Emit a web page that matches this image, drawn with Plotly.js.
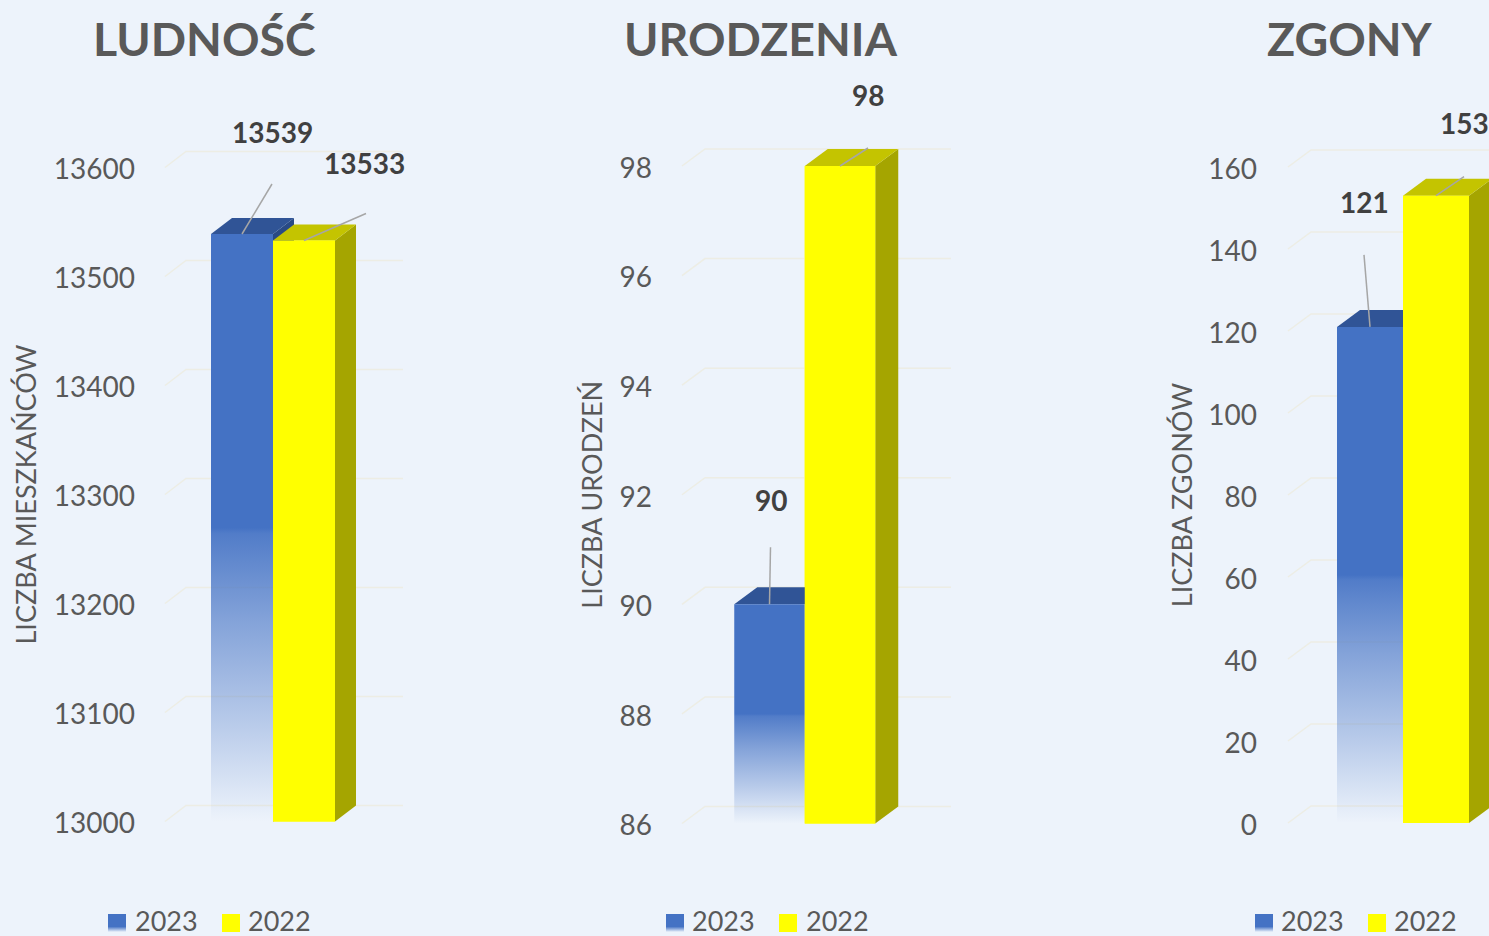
<!DOCTYPE html>
<html><head><meta charset="utf-8">
<script src="https://cdn.plot.ly/plotly-3.0.1.min.js"></script>
<style>html,body{margin:0;padding:0;background:#edf3fb;overflow:hidden}</style>
</head><body><div id="chart" style="width:1489px;height:936px"></div>
<script>
// ---- data ----
const seriesNames = ['2023', '2022'];
const ludnosc = [13539, 13533];
const urodzenia = [90, 98];
const zgony = [121, 153];
const ticksLudnosc = [13000, 13100, 13200, 13300, 13400, 13500, 13600];
const ticksUrodzenia = [86, 88, 90, 92, 94, 96, 98];
const ticksZgony = [0, 20, 40, 60, 80, 100, 120, 140, 160];
const titles = ['LUDNOŚĆ', 'URODZENIA', 'ZGONY'];
const yTitles = ['LICZBA MIESZKAŃCÓW', 'LICZBA URODZEŃ', 'LICZBA ZGONÓW'];

// ---- layout of the three panels (pixels on the 1489x936 page) ----
const W = 1489, H = 936;
const panels = [
 {values: ludnosc, ticks: ticksLudnosc, base: 13000, top: 13600, pxBottom: 821.5, pxTop: 167.5,
  left: 136, right: 420, c0: 242, w: 62, dx: 21, dy: 16, gridL: 165, gridR: 403, standoff: 9, titleX: 204,
  leader: [[30, -50], [62, -27]], label: [[30, -102], [60, -78]],
  swatch: [108, 222], text: [135, 248]},
 {values: urodzenia, ticks: ticksUrodzenia, base: 86, top: 98, pxBottom: 823.5, pxTop: 166,
  left: 653, right: 960, c0: 769.5, w: 70.5, dx: 23, dy: 17, gridL: 682, gridR: 951, standoff: 9, titleX: 761,
  leader: [[1, -57], [28, -18]], label: [[1, -104], [28, -71]],
  swatch: [666, 779], text: [692, 806]},
 {values: zgony, ticks: ticksZgony, base: 0, top: 160, pxBottom: 823, pxTop: 167,
  left: 1258, right: 1489, c0: 1370, w: 66, dx: 23, dy: 17, gridL: 1288, gridR: 1541, standoff: 7, titleX: 1350,
  leader: [[-6, -72], [28, -19]], label: [[-6, -125], [28, -73]],
  swatch: [1255, 1368], text: [1281, 1394]}
];
const FONT = 'Lato, Carlito, Calibri, sans-serif';
const TICK = '#595959', LABEL = '#404040';
const BLUE_TOP = '#305496', BLUE_SIDE = '#294a85';
const YEL = '#ffff00', YEL_TOP = '#c4c400', YEL_SIDE = '#a5a500';
const GRID = 'rgba(236,234,214,0.6)';
const fade = [[0, 'rgba(68,114,196,0)'], [0.16, 'rgba(68,114,196,0.30)'], [0.34, 'rgba(68,114,196,0.62)'], [0.49, 'rgba(68,114,196,0.92)'], [0.5, 'rgba(68,114,196,1)'], [1, 'rgba(68,114,196,1)']];
const swatchFade = [[0, 'rgba(68,114,196,0)'], [0.3, 'rgba(68,114,196,1)'], [1, 'rgba(68,114,196,1)']];

const traces = [], annotations = [];
const layout = {
  width: W, height: H, margin: {l: 0, r: 0, t: 0, b: 0}, autosize: false,
  paper_bgcolor: '#edf3fb', plot_bgcolor: 'rgba(0,0,0,0)', showlegend: false, barmode: 'overlay', hovermode: false,
  font: {family: FONT, color: TICK}
};

panels.forEach((p, i) => {
  const n = i === 0 ? '' : String(i + 1);
  const xa = 'x' + n, ya = 'y' + n;
  const xOf = px => (px - p.c0) / p.w;
  const scale = (p.pxBottom - p.pxTop) / (p.top - p.base);
  const yOf = px => p.base + (p.pxBottom - px) / scale;
  const dX = p.dx / p.w, dY = p.dy / scale;
  // plot area is widened equally up and down so the depth faces are not clipped and the axis title stays centred
  const ext = H - p.pxBottom, areaTop = p.pxTop - ext;

  layout['xaxis' + n] = {domain: [p.left / W, p.right / W], range: [xOf(p.left), xOf(p.right)], visible: false, fixedrange: true, anchor: ya};
  layout['yaxis' + n] = {domain: [0, 1 - areaTop / H], range: [yOf(H), yOf(areaTop)], anchor: xa, fixedrange: true,
    tickmode: 'array', tickvals: p.ticks, ticktext: p.ticks.map(String), showgrid: false, zeroline: false, showline: false, ticks: '',
    tickfont: {family: FONT, size: 28, color: TICK}, ticklabelshift: 2,
    title: {text: yTitles[i], font: {family: FONT, size: 27, color: TICK}, standoff: p.standoff}};

  const poly = (xs, ys, style, ax, ay) => traces.push(Object.assign({type: 'scatter', mode: 'lines', xaxis: ax || xa, yaxis: ay || ya, x: xs, y: ys,
    fill: 'toself', line: {width: 0}, showlegend: false, hoverinfo: 'skip'}, style));
  const base = p.base;

  // the bars themselves, on the library's scale
  p.values.forEach((v, k) => traces.push({type: 'bar', xaxis: xa, yaxis: ya, x: [k], y: [v - base], base: base, width: 1, name: seriesNames[k],
    marker: {color: k === 0 ? 'rgba(68,114,196,0)' : YEL, line: {width: 0}}, showlegend: false, hoverinfo: 'skip'}));

  // receding floor/wall lines at each tick
  p.ticks.forEach(t => traces.push({type: 'scatter', mode: 'lines', xaxis: xa, yaxis: ya,
    x: [xOf(p.gridL), xOf(p.gridL) + dX, xOf(p.gridR)], y: [t, t + dY, t + dY],
    line: {color: GRID, width: 1.5}, cliponaxis: false, showlegend: false, hoverinfo: 'skip'}));

  // 3D faces, blue column first, yellow column over it
  const [a, b] = p.values;
  if (a > b) poly([0.5, 0.5 + dX, 0.5 + dX, 0.5], [base, base + dY, a + dY, a], {fillcolor: BLUE_SIDE});
  poly([-0.5, 0.5, 0.5 + dX, -0.5 + dX], [a, a, a + dY, a + dY], {fillcolor: BLUE_TOP});
  poly([-0.5, 0.5, 0.5, -0.5], [base, base, a, a], {fillgradient: {type: 'vertical', colorscale: fade, start: base, stop: a}});
  poly([1.5, 1.5 + dX, 1.5 + dX, 1.5], [base, base + dY, b + dY, b], {fillcolor: YEL_SIDE});
  poly([0.5, 1.5, 1.5 + dX, 0.5 + dX], [b, b, b + dY, b + dY], {fillcolor: YEL_TOP});
  poly([0.5, 1.5, 1.5, 0.5], [base, base, b, b], {fillcolor: YEL});

  // leader lines and value labels
  p.values.forEach((v, k) => {
    traces.push({type: 'scatter', mode: 'lines', xaxis: xa, yaxis: ya,
      x: [k, k + p.leader[k][0] / p.w], y: [v, v - p.leader[k][1] / scale],
      line: {color: '#a6a6a6', width: 1.5}, cliponaxis: false, showlegend: false, hoverinfo: 'skip'});
    annotations.push({xref: xa, yref: ya, x: k, y: v, xshift: p.label[k][0], yshift: -p.label[k][1], text: String(v), showarrow: false,
      xanchor: 'center', yanchor: 'middle', font: {family: FONT, size: 28, color: LABEL, weight: 700}});
  });

  // legend swatches on a full-page pixel axis, legend text as annotations
  seriesNames.forEach((s, k) => {
    const x0 = p.swatch[k], x1 = x0 + 18, y0 = 932, y1 = 914;
    const st = k === 0 ? {fillgradient: {type: 'vertical', colorscale: swatchFade, start: y0, stop: y1}} : {fillcolor: YEL};
    poly([x0, x1, x1, x0], [y0, y0, y1, y1], st, 'x4', 'y4');
    annotations.push({xref: 'paper', yref: 'paper', x: p.text[k] / W, y: 1 - 920 / H, text: s, showarrow: false,
      xanchor: 'left', yanchor: 'middle', xshift: -2, font: {family: FONT, size: 27, color: TICK}});
  });

  annotations.push({xref: 'paper', yref: 'paper', x: p.titleX / W, y: 1 - 38.5 / H, text: titles[i], showarrow: false,
    xanchor: 'center', yanchor: 'middle', font: {family: FONT, size: 46.5, color: TICK, weight: 700}});
});
layout.xaxis4 = {domain: [0, 1], range: [0, W], visible: false, fixedrange: true, anchor: 'y4'};
layout.yaxis4 = {domain: [0, 1], range: [H, 0], visible: false, fixedrange: true, anchor: 'x4'};
layout.annotations = annotations;
Plotly.newPlot('chart', traces, layout, {displayModeBar: false, staticPlot: true});
</script></body></html>
